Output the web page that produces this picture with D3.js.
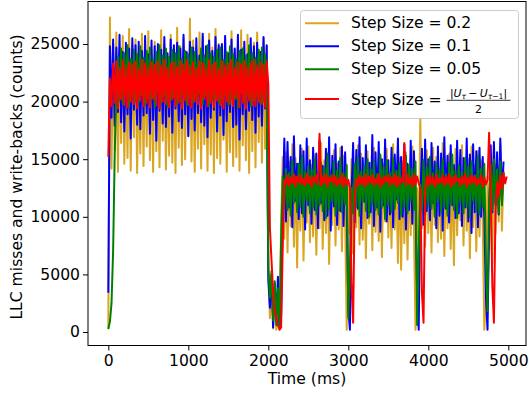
<!DOCTYPE html>
<html>
<head>
<meta charset="utf-8">
<script src="https://cdn.jsdelivr.net/npm/d3@7"></script>
<style>
  body { margin: 0; background: #fff; }
  svg { display: block; font-family: "DejaVu Sans", sans-serif; }
</style>
</head>
<body>
<div id="graph"></div>
<script>
// samples every 20 ms, values in thousands of counts
var STEP_MS = 20;

var stepLabels = ["Step Size = 0.2", "Step Size = 0.1", "Step Size = 0.05", "Step Size = "];
var colors = ["#daa520", "#0000ff", "#008000", "#ff0000"];
var xTicks = [0, 1000, 2000, 3000, 4000, 5000];
var yTicks = [0, 5000, 10000, 15000, 20000, 25000];

var step02 = [0.3, 27.3,
  14.2, 25.1, 15.8, 26.0, 13.9, 24.3, 16.4, 25.7, 14.6, 23.8, 15.1, 26.3, 14.0, 24.9, 16.9, 25.4, 13.8, 22.9,
  15.5, 25.9, 14.4, 24.6, 16.1, 26.1, 14.9, 23.5, 13.9, 25.2, 15.7, 24.0, 14.3, 26.2, 16.6, 25.0, 14.1, 23.7,
  15.3, 25.8, 14.7, 24.4, 13.8, 26.4, 16.0, 24.8, 14.5, 25.5, 15.0, 23.9, 17.1, 27.2,
  14.8, 25.3, 13.9, 24.1, 15.9, 26.0, 14.2, 25.6, 16.3, 23.6, 14.0, 25.9, 15.4, 24.7, 13.8, 26.3, 15.1, 25.0,
  14.6, 24.2, 16.7, 25.7, 13.9, 23.9, 15.6, 26.1, 14.4, 24.5, 15.2, 25.4, 14.0, 26.2, 16.2, 24.0, 14.9, 25.8,
  13.8, 24.6, 15.7, 25.1, 14.3, 26.0, 16.5, 24.3, 14.7, 25.5, 15.9, 24.8,
  5.8, 1.2, 4.1, 0.3, 3.5, 0.2, 2.8, 0.4, 9.5, 15.2,
  8.1, 15.6, 6.9, 14.8, 9.2, 16.3, 7.4, 15.1, 5.6, 14.2, 8.8, 15.9, 6.2, 13.7, 9.5, 16.1, 7.8, 14.5, 8.3, 15.4,
  6.7, 13.9, 9.0, 16.4, 7.2, 14.9, 8.6, 15.2, 5.9, 14.0, 9.3, 15.8, 7.5, 14.6, 8.9, 16.0, 7.0, 15.3, 9.8,
  0.2, 13.0,
  8.5, 15.0, 6.8, 14.3, 9.1, 16.2, 7.6, 15.5, 8.0, 13.8, 6.4, 15.7, 9.4, 14.7, 7.1, 16.0, 8.7, 14.1, 7.9, 15.3,
  6.5, 14.6, 9.6, 15.9, 8.2, 13.6, 7.3, 16.3, 8.9, 14.4, 6.0, 15.1, 5.4, 14.8, 7.7, 15.6, 6.3, 14.0, 8.4, 16.1, 9.2,
  0.2, 12.5, 8.0, 18.6, 9.0,
  14.9, 7.4, 15.8, 8.6, 14.2, 6.9, 16.0, 9.3, 15.2, 7.8, 13.9, 8.1, 16.4, 6.6, 14.7, 9.0, 15.5, 7.2, 14.3, 5.8,
  15.9, 8.4, 13.7, 9.7, 16.2, 7.5, 14.8, 8.8, 15.0, 6.4, 16.1, 9.1, 14.5, 7.0, 15.7, 8.3, 14.9,
  9.5, 0.2, 3.0, 13.5, 7.2,
  15.5, 6.0, 16.2, 8.5, 15.0, 9.6, 16.3, 8.8, 14.0];

var step01 = [3.4, 24.8,
  18.6, 25.4, 17.9, 24.7, 19.1, 25.8, 18.2, 24.3, 17.4, 25.1, 18.9, 24.6, 16.8, 25.5, 19.3, 24.9, 18.0, 25.2,
  17.6, 24.4, 18.8, 25.7, 19.0, 24.1, 17.2, 25.3, 18.4, 24.8, 16.6, 25.0, 19.2, 24.5, 18.1, 25.6, 17.8, 24.2,
  18.7, 25.4, 17.3, 24.9, 19.4, 25.1, 18.3, 24.6, 17.7, 25.8, 18.9, 24.3, 17.0, 25.2,
  18.5, 24.7, 17.5, 25.5, 19.0, 24.0, 18.2, 25.9, 17.9, 24.8, 16.9, 25.3, 18.6, 24.4, 19.3, 25.6, 17.4, 24.9,
  18.8, 25.0, 17.1, 25.7, 18.3, 24.2, 19.1, 25.4, 17.8, 24.6, 18.0, 25.8, 16.7, 24.5, 18.9, 25.2, 17.6, 24.1,
  19.2, 25.5, 18.4, 24.8, 17.3, 25.1, 18.7, 24.3, 17.9, 25.6, 19.4, 24.9,
  4.5, 2.1, 5.0, 0.4, 4.2, 1.0, 4.8, 0.3, 1.5, 10.5, 16.8,
  9.6, 16.5, 10.8, 15.2, 9.1, 17.0, 11.4, 14.6, 9.8, 16.2, 10.3, 15.7, 8.9, 16.8, 11.0, 14.9, 9.4, 16.0, 10.6, 15.5,
  9.0, 16.6, 11.2, 14.4, 9.7, 15.9, 10.1, 16.9, 8.8, 15.3, 10.9, 16.3, 9.3, 14.8, 10.5, 16.1, 9.2, 15.6, 11.1,
  2.0, 0.2, 12.0,
  16.4, 9.5, 15.8, 10.7, 16.9, 9.0, 15.1, 11.3, 16.2, 9.9, 14.7, 10.4, 17.1, 9.2, 15.6, 10.8, 16.5, 8.7, 15.0, 11.0,
  16.7, 9.6, 14.9, 10.2, 16.0, 9.1, 15.4, 11.5, 16.8, 9.8, 15.2, 10.0, 16.3, 8.9, 14.6, 10.6, 16.6, 9.4, 15.7, 10.9,
  3.5, 0.2, 11.5,
  15.9, 9.3, 16.7, 10.5, 15.0, 9.7, 16.4, 11.2, 14.8, 9.0, 16.1, 10.1, 15.5, 8.8, 16.9, 10.7, 15.3, 9.5, 16.2, 11.0,
  14.5, 9.9, 16.6, 10.3, 15.8, 9.2, 15.1, 10.8, 16.8, 9.6, 15.4, 8.6, 16.3, 10.4, 15.7, 9.1, 16.0, 10.0, 15.2, 9.8,
  3.0, 0.2, 9.0,
  16.2, 10.4, 16.5, 11.0, 15.6, 10.2, 16.8, 11.5, 14.8];

var step005 = [0.25, 0.9, 2.5, 7.0, 15.5, 20.5,
  23.9, 20.1, 24.6, 19.8, 24.2, 20.7, 24.9, 19.6, 23.7, 20.4, 24.5, 20.0, 24.1, 19.9, 24.8, 20.6, 23.8, 19.7,
  24.4, 20.3, 24.7, 20.2, 23.6, 19.5, 24.3, 20.8, 24.9, 19.9, 24.0, 20.5, 24.6, 19.6, 23.9, 20.1, 24.5, 20.4,
  24.2, 19.8, 24.8, 20.0, 23.7, 20.6, 24.4, 19.7, 24.1, 20.3, 24.7, 19.9,
  24.3, 20.2, 23.8, 20.7, 24.6, 19.8, 24.0, 20.5, 24.9, 19.6, 24.2, 20.1, 23.9, 20.4, 24.5, 19.9, 24.7, 20.0,
  23.6, 20.6, 24.3, 19.7, 24.8, 20.3, 24.1, 20.2, 23.7, 19.5, 24.4, 20.8, 24.6, 19.9, 24.0, 20.5, 24.9, 19.6,
  24.2, 20.1, 23.8, 20.4, 24.5, 19.8, 24.7, 20.0, 24.1, 20.6,
  5.5, 3.0, 5.3, 1.0, 4.4, 0.6, 3.8, 0.5, 8.0, 13.5, 11.0,
  14.2, 10.6, 13.8, 10.1, 14.9, 11.2, 13.5, 10.4, 14.6, 10.9, 15.3, 10.0, 13.9, 11.4, 14.4, 10.3, 14.1, 10.8, 15.0, 10.2,
  13.7, 11.0, 14.7, 10.5, 14.3, 9.9, 15.5, 10.7, 13.6, 11.3, 14.8, 10.1, 14.0, 10.6, 15.1, 10.4, 13.8, 11.1, 14.5,
  1.2, 6.0, 12.5,
  10.3, 14.6, 10.9, 15.2, 10.1, 13.9, 11.3, 14.4, 10.5, 15.0, 10.0, 14.1, 11.1, 14.8, 10.6, 13.7, 10.2, 15.4, 10.8, 14.3,
  9.8, 14.9, 11.0, 13.8, 10.4, 15.1, 10.7, 14.0, 11.2, 14.7, 10.1, 13.6, 10.9, 15.3, 10.3, 14.5, 11.4, 14.2, 10.6, 14.8,
  0.6, 7.0, 12.8,
  10.5, 14.9, 10.2, 14.3, 11.0, 15.2, 10.7, 13.8, 10.0, 14.6, 11.3, 14.1, 10.4, 15.0, 10.8, 13.7, 10.1, 14.7, 11.1, 15.4,
  10.6, 14.0, 9.9, 14.5, 11.2, 13.9, 10.3, 15.1, 10.9, 14.4, 10.0, 14.8, 11.4, 13.6, 10.5, 15.3, 10.2, 14.2, 10.8, 14.6,
  6.0, 1.8, 11.5,
  14.5, 10.6, 15.0, 11.2, 14.1, 10.3, 14.8, 11.0, 13.9];

var stepAdaptive = [15.2, 22.0,
  19.6, 23.3, 19.9, 23.5, 19.4, 22.9, 20.2, 23.6, 19.7, 23.1, 19.5, 23.4, 20.0, 23.2, 19.8, 23.5, 19.4, 22.8,
  20.1, 23.6, 19.6, 23.3, 19.9, 23.0, 19.5, 23.4, 20.3, 23.2, 19.7, 23.5, 19.4, 23.1, 20.0, 23.6, 19.8, 22.9,
  19.5, 23.3, 20.2, 23.4, 19.6, 23.0, 19.9, 23.5, 19.4, 23.2, 20.1, 23.6,
  19.7, 23.1, 19.5, 23.4, 20.0, 22.9, 19.8, 23.5, 19.4, 23.3, 20.2, 23.0, 19.6, 23.6, 19.9, 23.2, 19.5, 23.4,
  20.1, 22.8, 19.7, 23.5, 19.4, 23.1, 20.0, 23.3, 19.8, 23.6, 19.6, 22.9, 20.3, 23.4, 19.5, 23.2, 19.9, 23.5,
  19.4, 23.0, 20.1, 23.3, 19.7, 23.6, 19.6, 23.1, 20.0, 23.4, 19.8, 23.2, 19.5, 23.5,
  21.5, 9.0, 6.2, 3.5, 1.8, 1.2, 0.6, 0.2, 0.4, 7.5, 13.2,
  12.8, 13.6, 12.7, 13.4, 12.9, 13.7, 12.6, 13.5, 13.0, 13.6, 12.8, 13.3, 12.7, 13.7, 12.9, 13.5, 12.6, 13.4, 13.0, 13.6,
  12.8, 17.2, 12.7, 13.5, 12.9, 13.7, 12.6, 13.4, 13.1, 13.6, 12.8, 13.5, 12.7, 13.3, 12.9, 13.7, 12.6, 13.4, 12.8, 13.2, 12.5,
  4.0, 0.8, 11.5,
  13.3, 12.7, 13.6, 12.9, 13.4, 12.6, 13.7, 12.8, 13.5, 13.0, 13.6, 12.7, 13.3, 12.9, 13.7, 12.6, 13.4, 12.8, 13.5, 13.1,
  13.6, 12.7, 13.4, 12.9, 13.7, 12.6, 13.5, 12.8, 13.3, 13.0, 16.4, 12.7, 13.6, 12.9, 13.4, 12.6, 13.7, 12.8, 13.5, 12.9, 12.5,
  3.5, 0.8, 12.0,
  13.5, 12.7, 13.6, 12.9, 13.4, 12.6, 13.7, 12.8, 13.3, 13.0, 13.6, 12.7, 13.5, 12.9, 13.7, 12.6, 13.4, 12.8, 13.6, 13.1,
  13.3, 12.7, 13.5, 12.9, 13.7, 12.6, 13.4, 12.8, 13.6, 13.0, 13.5, 12.7, 13.3, 12.9, 13.6, 12.6, 13.4, 12.8, 13.2,
  17.3, 12.0, 4.0, 0.8,
  10.5, 13.0, 11.8, 13.6, 12.4, 13.8, 12.9, 13.5];

var allSeries = [step02, step01, step005, stepAdaptive];

var W = 529, H = 393;
var plot = {left: 88, right: 526, top: 1.5, bottom: 345.5};
var FS = 15.6;

var x = d3.scaleLinear().domain([-254, 5221]).range([plot.left, plot.right]);
var y = d3.scaleLinear().domain([-1172, 28689]).range([plot.bottom, plot.top]);

var svg = d3.select("#graph").append("svg")
    .attr("width", W)
    .attr("height", H);

svg.append("defs").append("clipPath").attr("id", "clip")
  .append("rect")
    .attr("x", plot.left).attr("y", plot.top)
    .attr("width", plot.right - plot.left).attr("height", plot.bottom - plot.top);

var line = d3.line()
    .x(function(d, i) { return x(i * STEP_MS); })
    .y(function(d) { return y(d * 1000); });

svg.append("g").attr("clip-path", "url(#clip)")
  .selectAll("path")
  .data(allSeries)
  .enter().append("path")
    .attr("d", line)
    .attr("fill", "none")
    .attr("stroke", function(d, i) { return colors[i]; })
    .attr("stroke-width", 2)
    .attr("stroke-linejoin", "round");

// axes
var xAxis = svg.append("g")
    .attr("transform", "translate(0," + plot.bottom + ")")
    .call(d3.axisBottom(x).tickValues(xTicks).tickFormat(d3.format("d")).tickSize(5).tickPadding(4.3));
var yAxis = svg.append("g")
    .attr("transform", "translate(" + plot.left + ",0)")
    .call(d3.axisLeft(y).tickValues(yTicks).tickFormat(d3.format("d")).tickSize(5).tickPadding(3));

[xAxis, yAxis].forEach(function(a) {
  a.select(".domain").remove();
  a.selectAll("text").attr("font-family", "DejaVu Sans").attr("font-size", FS).attr("fill", "#000");
  a.selectAll("line").attr("stroke", "#000").attr("stroke-width", 1);
});

svg.append("rect")
    .attr("x", plot.left).attr("y", plot.top)
    .attr("width", plot.right - plot.left).attr("height", plot.bottom - plot.top)
    .attr("fill", "none").attr("stroke", "#000").attr("stroke-width", 1);

svg.append("text")
    .attr("x", (plot.left + plot.right) / 2)
    .attr("y", 384)
    .attr("text-anchor", "middle")
    .attr("font-size", FS)
    .text("Time (ms)");

svg.append("text")
    .attr("transform", "translate(22,177) rotate(-90)")
    .attr("text-anchor", "middle")
    .attr("font-size", FS)
    .text("LLC misses and write-backs (counts)");

// legend
var lg = svg.append("g");
lg.append("rect")
    .attr("x", 300.5).attr("y", 10.5).attr("width", 218).attr("height", 108)
    .attr("rx", 3)
    .attr("fill", "#fff").attr("fill-opacity", 0.8)
    .attr("stroke", "#cccccc").attr("stroke-width", 1);

var rowY = [23.3, 46.3, 69.3, 99];
var rowBase = [28.2, 51.2, 74.2, 105.2];
stepLabels.forEach(function(lab, i) {
  lg.append("line")
      .attr("x1", 305).attr("x2", 339)
      .attr("y1", rowY[i]).attr("y2", rowY[i])
      .attr("stroke", colors[i]).attr("stroke-width", 2);
  lg.append("text")
      .attr("x", 351).attr("y", rowBase[i])
      .attr("font-size", FS)
      .attr("xml:space", "preserve")
      .text(lab);
});

// fraction |U_tau - U_tau-1| / 2
var num = lg.append("text")
    .attr("x", 478.5).attr("y", 97)
    .attr("text-anchor", "middle")
    .attr("font-size", 10.9);
num.append("tspan").text("|");
num.append("tspan").attr("font-style", "italic").text("U");
num.append("tspan").attr("font-style", "italic").attr("font-size", 7.6).attr("dy", 1.7).text("τ");
num.append("tspan").attr("dy", -1.7).text("\u2009−\u2009");
num.append("tspan").attr("font-style", "italic").text("U");
num.append("tspan").attr("font-size", 7.6).attr("dy", 1.7).html("<tspan font-style='italic'>τ</tspan>−1");
num.append("tspan").attr("dy", -1.7).text("|");

lg.append("line")
    .attr("x1", 446.5).attr("x2", 510.5)
    .attr("y1", 100.3).attr("y2", 100.3)
    .attr("stroke", "#000").attr("stroke-width", 0.8);

lg.append("text")
    .attr("x", 478.5).attr("y", 112.6)
    .attr("text-anchor", "middle")
    .attr("font-size", 10.9)
    .text("2");
</script>
</body>
</html>
